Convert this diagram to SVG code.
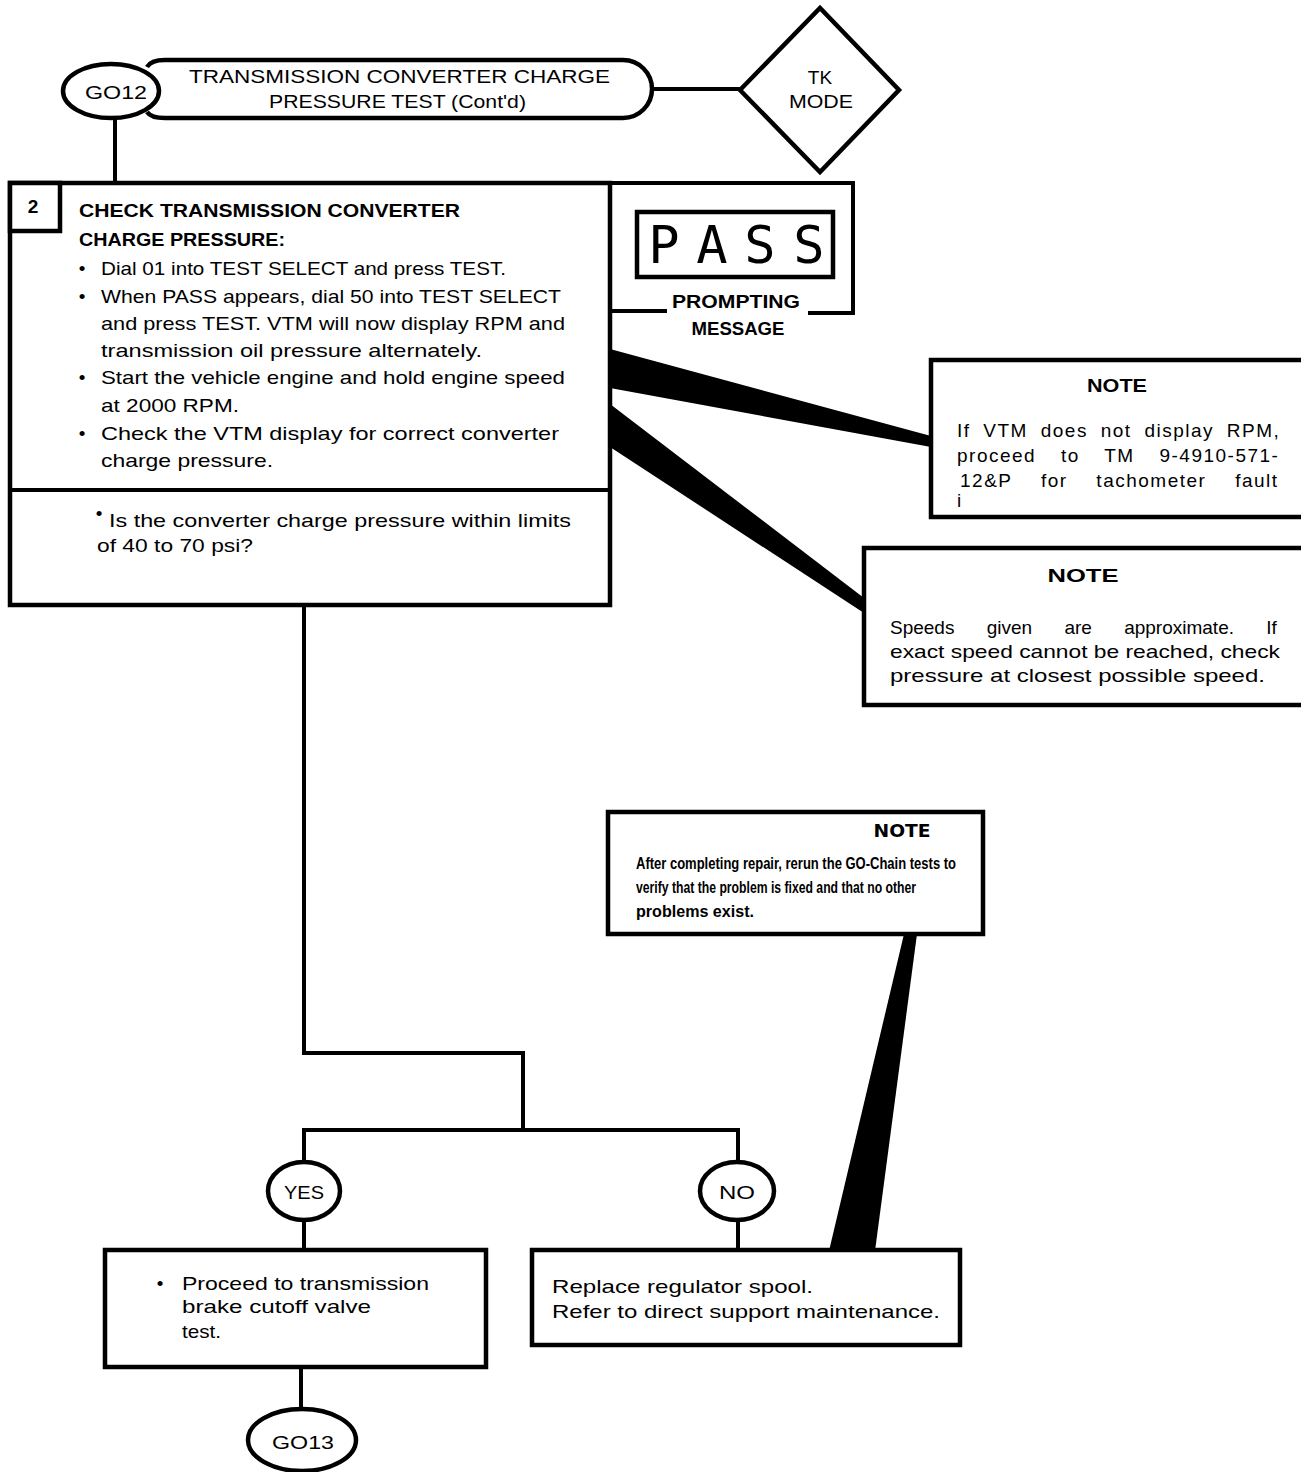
<svg xmlns="http://www.w3.org/2000/svg" width="1301" height="1472" viewBox="0 0 1301 1472">
  <style>
    .ln { fill: none; stroke: #000; stroke-width: 4; stroke-linejoin: miter; stroke-linecap: square; }
    .box { fill: #fff; stroke: #000; stroke-width: 4.5; }
    .wedge { fill: #000; stroke: none; }
    .t { font-family: "Liberation Sans", Arial, sans-serif; fill: #000; font-size: 19px; }
    .n { font-family: "Liberation Sans Narrow", "Liberation Sans", Arial, sans-serif; fill: #000; }
    .b { font-weight: bold; }
    .c { text-anchor: middle; }
    .seg { font-family: "DejaVu Sans Mono", "Liberation Mono", monospace; font-size: 52px; fill: #000; }
    .heavy { font-family: "DejaVu Sans", "Liberation Sans", sans-serif; font-weight: bold; fill: #000; }
  </style>

  <!-- connectors and callout leaders -->
  <g id="connectors">
    <!-- header to TK mode -->
    <line class="ln" x1="652" y1="89" x2="740" y2="89"/>
    <!-- header to step 2 -->
    <line class="ln" x1="115" y1="118" x2="115" y2="183"/>
    <!-- step 2 down to YES / NO split -->
    <polyline class="ln" points="304,605 304,1053 523,1053 523,1130"/>
    <polyline class="ln" points="304,1162 304,1130 738,1130 738,1162"/>
    <line class="ln" x1="304" y1="1220" x2="304" y2="1250"/>
    <line class="ln" x1="738" y1="1220" x2="738" y2="1250"/>
    <!-- YES box to GO13 -->
    <line class="ln" x1="301" y1="1367" x2="301" y2="1408"/>
    <!-- callout leaders -->
    <polygon class="wedge" points="610,349 610,388 931,447 931,436"/>
    <polygon class="wedge" points="610,404 610,447 864,613 864,598"/>
    <polygon class="wedge" points="904,934 917,934 875,1251 829,1251"/>
  </g>

  <!-- GO12 header capsule -->
  <g id="go12-header">
    <path class="box" d="M147,67 Q151,60 165,60 H623 A29,29 0 0 1 623,118 H165 Q151,118 147,112"/>
    <ellipse class="box" cx="111" cy="91" rx="48" ry="27"/>
    <text class="t" x="116" y="99" text-anchor="middle" font-size="22" textLength="62" lengthAdjust="spacingAndGlyphs">GO12</text>
    <text class="t" x="189" y="83" font-size="24" textLength="421" lengthAdjust="spacingAndGlyphs">TRANSMISSION CONVERTER CHARGE</text>
    <text class="t" x="269" y="108" font-size="24" textLength="257" lengthAdjust="spacingAndGlyphs">PRESSURE TEST (Cont'd)</text>
  </g>

  <!-- TK mode diamond -->
  <g id="tk-mode">
    <polygon class="box" points="740,90 820,8 899,90 820,172"/>
    <text class="t c" x="820" y="84" font-size="16">TK</text>
    <text class="t c" x="821" y="108" font-size="16" textLength="64" lengthAdjust="spacingAndGlyphs">MODE</text>
  </g>

  <!-- step 2 -->
  <g id="step-2">
    <rect class="box" x="10" y="183" width="600" height="422"/>
    <line class="ln" x1="10" y1="490" x2="610" y2="490"/>
    <rect class="box" x="10" y="183" width="50" height="48"/>
    <text class="t b c" x="33" y="213" font-size="20">2</text>

    <text class="t b" x="79" y="217" font-size="17" textLength="381" lengthAdjust="spacingAndGlyphs">CHECK TRANSMISSION CONVERTER</text>
    <text class="t b" x="79" y="246" font-size="17" textLength="206" lengthAdjust="spacingAndGlyphs">CHARGE PRESSURE:</text>

    <text class="t c" x="82" y="275">•</text>
    <text class="t" x="101" y="275" textLength="405" lengthAdjust="spacingAndGlyphs">Dial 01 into TEST SELECT and press TEST.</text>
    <text class="t c" x="82" y="303">•</text>
    <text class="t" x="101" y="303" textLength="460" lengthAdjust="spacingAndGlyphs">When PASS appears, dial 50 into TEST SELECT</text>
    <text class="t" x="101" y="330" textLength="464" lengthAdjust="spacingAndGlyphs">and press TEST. VTM will now display RPM and</text>
    <text class="t" x="101" y="357" textLength="381" lengthAdjust="spacingAndGlyphs">transmission oil pressure alternately.</text>
    <text class="t c" x="82" y="384">•</text>
    <text class="t" x="101" y="384" textLength="464" lengthAdjust="spacingAndGlyphs">Start the vehicle engine and hold engine speed</text>
    <text class="t" x="101" y="412" textLength="138" lengthAdjust="spacingAndGlyphs">at 2000 RPM.</text>
    <text class="t c" x="82" y="440">•</text>
    <text class="t" x="101" y="440" textLength="458" lengthAdjust="spacingAndGlyphs">Check the VTM display for correct converter</text>
    <text class="t" x="101" y="467" textLength="172" lengthAdjust="spacingAndGlyphs">charge pressure.</text>

    <text class="t c" x="99" y="520">•</text>
    <text class="t" x="109" y="527" textLength="462" lengthAdjust="spacingAndGlyphs">Is the converter charge pressure within limits</text>
    <text class="t" x="97" y="552" textLength="156" lengthAdjust="spacingAndGlyphs">of 40 to 70 psi?</text>

    <!-- prompting message display -->
    <path class="ln" d="M610,183 H853 V313 H810 M610,311 H665"/>
    <rect class="box" x="637" y="212" width="196" height="65"/>
    <text class="seg" x="664 712 760 809" y="263" text-anchor="middle">PASS</text>
    <text class="t b c" x="736" y="308" font-size="18" textLength="128" lengthAdjust="spacingAndGlyphs">PROMPTING</text>
    <text class="t b c" x="738" y="335" font-size="18" textLength="93" lengthAdjust="spacingAndGlyphs">MESSAGE</text>
  </g>

  <!-- note: tachometer -->
  <g id="note-rpm">
    <rect class="box" x="931" y="360" width="380" height="157"/>
    <text class="t b c" x="1117" y="392" font-size="19" textLength="60" lengthAdjust="spacingAndGlyphs">NOTE</text>
    <text class="t" x="957" y="437" font-size="20" letter-spacing="1.5" word-spacing="6">If VTM does not display RPM,</text>
    <text class="t" x="957" y="462" font-size="20" letter-spacing="1.5" word-spacing="18">proceed to TM 9-4910-571-</text>
    <text class="t" x="960" y="487" font-size="20" letter-spacing="1.5" word-spacing="22">12&amp;P for tachometer fault</text>
    <text class="t" x="957" y="507" font-size="14">i</text>
  </g>

  <!-- note: speeds -->
  <g id="note-speed">
    <rect class="box" x="864" y="548" width="450" height="157"/>
    <text class="t b c" x="1083" y="582" font-size="23" textLength="71" lengthAdjust="spacingAndGlyphs">NOTE</text>
    <text class="t" x="890" y="634" font-size="20" word-spacing="27">Speeds given are approximate. If</text>
    <text class="t" x="890" y="658" font-size="20" textLength="390" lengthAdjust="spacingAndGlyphs">exact speed cannot be reached, check</text>
    <text class="t" x="890" y="682" font-size="20" textLength="375" lengthAdjust="spacingAndGlyphs">pressure at closest possible speed.</text>
  </g>

  <!-- note: rerun GO-Chain -->
  <g id="note-rerun">
    <rect class="box" x="608" y="812" width="375" height="122"/>
    <text class="heavy c" x="902" y="837" font-size="17" textLength="57" lengthAdjust="spacingAndGlyphs">NOTE</text>
    <text class="n b" x="636" y="869" font-size="16" textLength="320" lengthAdjust="spacingAndGlyphs">After completing repair, rerun the GO-Chain tests to</text>
    <text class="n b" x="636" y="893" font-size="16" textLength="280" lengthAdjust="spacingAndGlyphs">verify that the problem is fixed and that no other</text>
    <text class="n b" x="636" y="917" font-size="16" textLength="118" lengthAdjust="spacingAndGlyphs">problems exist.</text>
  </g>

  <!-- YES branch -->
  <g id="yes">
    <ellipse class="box" cx="304" cy="1191" rx="36" ry="29"/>
    <text class="t c" x="304" y="1199" font-size="20" textLength="40" lengthAdjust="spacingAndGlyphs">YES</text>
  </g>
  <g id="yes-action">
    <rect class="box" x="105" y="1250" width="381" height="117"/>
    <text class="t c" x="160" y="1290">•</text>
    <text class="t" x="182" y="1290" textLength="247" lengthAdjust="spacingAndGlyphs">Proceed to transmission</text>
    <text class="t" x="182" y="1313" textLength="189" lengthAdjust="spacingAndGlyphs">brake cutoff valve</text>
    <text class="t" x="182" y="1338" textLength="39" lengthAdjust="spacingAndGlyphs">test.</text>
  </g>
  <g id="go13">
    <ellipse class="box" cx="302" cy="1440" rx="54" ry="31"/>
    <text class="t c" x="303" y="1449" font-size="22" textLength="62" lengthAdjust="spacingAndGlyphs">GO13</text>
  </g>

  <!-- NO branch -->
  <g id="no">
    <ellipse class="box" cx="737" cy="1191" rx="37" ry="29"/>
    <text class="t c" x="737" y="1199" font-size="20" textLength="36" lengthAdjust="spacingAndGlyphs">NO</text>
  </g>
  <g id="no-action">
    <rect class="box" x="532" y="1250" width="428" height="95"/>
    <text class="t" x="552" y="1293" textLength="261" lengthAdjust="spacingAndGlyphs">Replace regulator spool.</text>
    <text class="t" x="552" y="1318" textLength="388" lengthAdjust="spacingAndGlyphs">Refer to direct support maintenance.</text>
  </g>
</svg>
